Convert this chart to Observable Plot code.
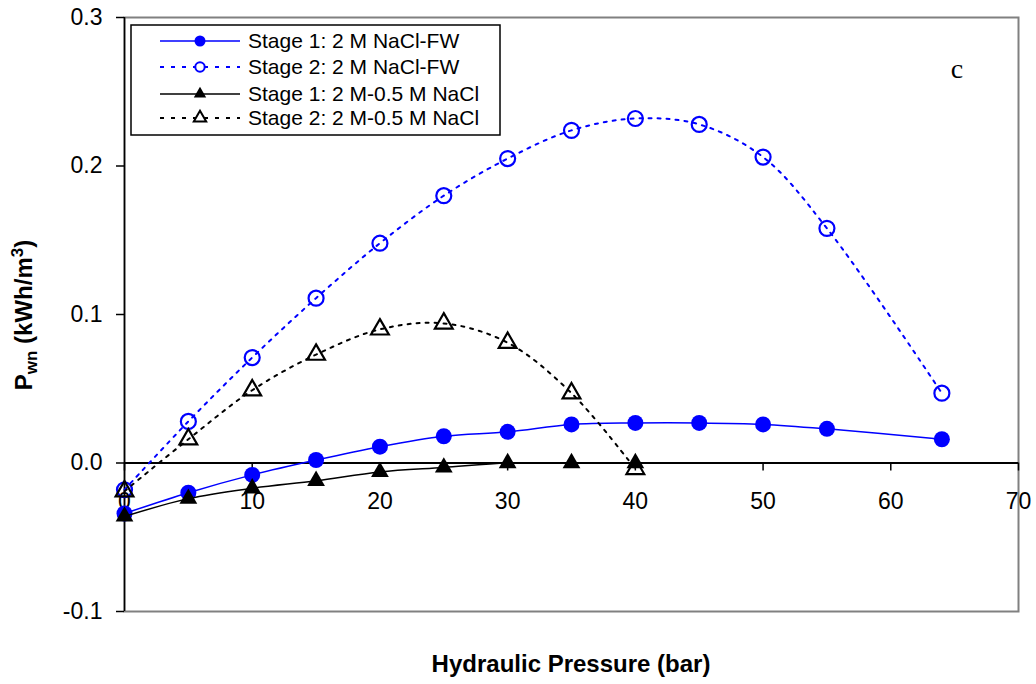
<!DOCTYPE html>
<html><head><meta charset="utf-8">
<script src="https://cdn.jsdelivr.net/npm/d3@7"></script>
<script src="https://cdn.jsdelivr.net/npm/@observablehq/plot@0.6"></script>
<style>
body{margin:0;background:#fff;}
#chart{position:relative;width:1036px;height:684px;}
</style>
</head><body><div id="chart"></div>
<script>
// ---- data ----
const pressureFW = [0, 5, 10, 15, 20, 25, 30, 35, 40, 45, 50, 55, 64];
const stage1FW   = [-0.034, -0.020, -0.008, 0.002, 0.011, 0.018, 0.021, 0.026, 0.027, 0.027, 0.026, 0.023, 0.016];
const stage2FW   = [-0.018, 0.028, 0.071, 0.111, 0.148, 0.180, 0.205, 0.224, 0.232, 0.228, 0.206, 0.158, 0.047];
const pressureNaCl = [0, 5, 10, 15, 20, 25, 30, 35, 40];
const stage1NaCl = [-0.036, -0.024, -0.017, -0.012, -0.006, -0.003, 0.000, 0.000, 0.000];
const stage2NaCl = [-0.019, 0.016, 0.049, 0.073, 0.090, 0.094, 0.081, 0.047, -0.004];
const seriesNames = ["Stage 1: 2 M NaCl-FW", "Stage 2: 2 M NaCl-FW", "Stage 1: 2 M-0.5 M NaCl", "Stage 2: 2 M-0.5 M NaCl"];
const xTicks = [0, 10, 20, 30, 40, 50, 60, 70];
const yTicks = [-0.1, 0, 0.1, 0.2, 0.3];
const xTitle = "Hydraulic Pressure (bar)";
const panelLabel = "c";

const FONT = "'Liberation Sans', Arial, Helvetica, sans-serif";
const BLUE = "#0000ff";

const toRows = (xs, ys) => xs.map((x, i) => ({x, y: ys[i]}));
const s1fw = toRows(pressureFW, stage1FW);
const s2fw = toRows(pressureFW, stage2FW);
const s1na = toRows(pressureNaCl, stage1NaCl);
const s2na = toRows(pressureNaCl, stage2NaCl);

const styles = [
  {color: BLUE, dash: null, width: 1.5, symbol: "circle", filled: true, r: 8, lr: 5.5},
  {color: BLUE, dash: "3,6", width: 2, symbol: "circle", filled: false, r: 7.5, lr: 4.7},
  {color: "black", dash: null, width: 1.5, symbol: "triangle", filled: true, r: 6.6, lr: 4.6},
  {color: "black", dash: "3,6", width: 2, symbol: "triangle", filled: false, r: 6.6, lr: 4.6}
];
const datasets = [s1fw, s2fw, s1na, s2na];

const seriesMarks = datasets.flatMap((data, k) => {
  const s = styles[k];
  return [
    Plot.line(data, {x: "x", y: "y", stroke: s.color, strokeWidth: s.width,
      strokeDasharray: s.dash, curve: "catmull-rom"}),
    Plot.dot(data, {x: "x", y: "y", symbol: s.symbol, r: s.r,
      fill: s.filled ? s.color : "none", stroke: s.color, strokeWidth: s.filled ? 0 : 2.2})
  ];
});

const svg = Plot.plot({
  width: 1036, height: 684,
  marginLeft: 124, marginRight: 18, marginTop: 17, marginBottom: 73,
  x: {domain: [0, 70], axis: null},
  y: {domain: [-0.1, 0.3], axis: null},
  style: {fontFamily: FONT, fontSize: "23px", background: "white", color: "black"},
  marks: [
    Plot.frame({stroke: "#808080", strokeWidth: 2}),
    Plot.ruleY([0], {stroke: "black", strokeWidth: 2}),
    Plot.ruleX(xTicks, {x: d => d, y1: 0, y2: 0, insetBottom: -8, stroke: "black", strokeWidth: 1.5}),
    Plot.text(xTicks, {x: d => d, y: 0, text: d => String(d), dy: 39, fontSize: 23, fill: "black"}),
    Plot.axisY({ticks: yTicks, tickFormat: d => d.toFixed(1), tickSize: 8, tickPadding: 14,
      fontSize: 23, label: null, strokeWidth: 1.5}),
    Plot.ruleX([0], {stroke: "black", strokeWidth: 1.5}),
    ...seriesMarks
  ]
});
document.getElementById("chart").appendChild(svg);

// ---- annotations: titles, legend, panel label ----
const root = d3.select(svg);

root.append("text")
  .attr("x", 571).attr("y", 672)
  .attr("text-anchor", "middle")
  .attr("font-family", FONT).attr("font-size", 24).attr("font-weight", "bold")
  .attr("fill", "black")
  .text(xTitle);

const yl = root.append("text")
  .attr("transform", "translate(32,315) rotate(-90)")
  .attr("text-anchor", "middle")
  .attr("font-family", FONT).attr("font-size", 24).attr("font-weight", "bold")
  .attr("fill", "black");
yl.append("tspan").text("P");
yl.append("tspan").attr("dy", 5).attr("font-size", 17).text("wn");
yl.append("tspan").attr("dy", -5).text(" (kWh/m");
yl.append("tspan").attr("dy", -9).attr("font-size", 17).text("3");
yl.append("tspan").attr("dy", 9).text(")");

root.append("text")
  .attr("x", 957).attr("y", 78)
  .attr("text-anchor", "middle")
  .attr("font-family", "'Liberation Serif', 'Times New Roman', serif")
  .attr("font-size", 28).attr("fill", "black")
  .text(panelLabel);

const lg = root.append("g");
lg.append("rect").attr("x", 131).attr("y", 25).attr("width", 369).attr("height", 110)
  .attr("fill", "white").attr("stroke", "black").attr("stroke-width", 1.5);
const rowY = [41, 67, 94, 118];
seriesNames.forEach((name, k) => {
  const s = styles[k];
  const y = rowY[k];
  lg.append("line").attr("x1", 160).attr("x2", 240).attr("y1", y).attr("y2", y)
    .attr("stroke", s.color).attr("stroke-width", s.width)
    .attr("stroke-dasharray", s.dash ? "4,7" : null);
  const sym = s.symbol === "circle" ? d3.symbolCircle : d3.symbolTriangle;
  lg.append("path")
    .attr("transform", `translate(200,${y})`)
    .attr("d", d3.symbol(sym, s.lr * s.lr * Math.PI)())
    .attr("fill", s.filled ? s.color : "white")
    .attr("stroke", s.color).attr("stroke-width", s.filled ? 0 : 2);
  lg.append("text").attr("x", 248).attr("y", y + 7)
    .attr("text-anchor", "start")
    .attr("font-family", FONT).attr("font-size", 21).attr("fill", "black")
    .text(name);
});
</script>
</body></html>
